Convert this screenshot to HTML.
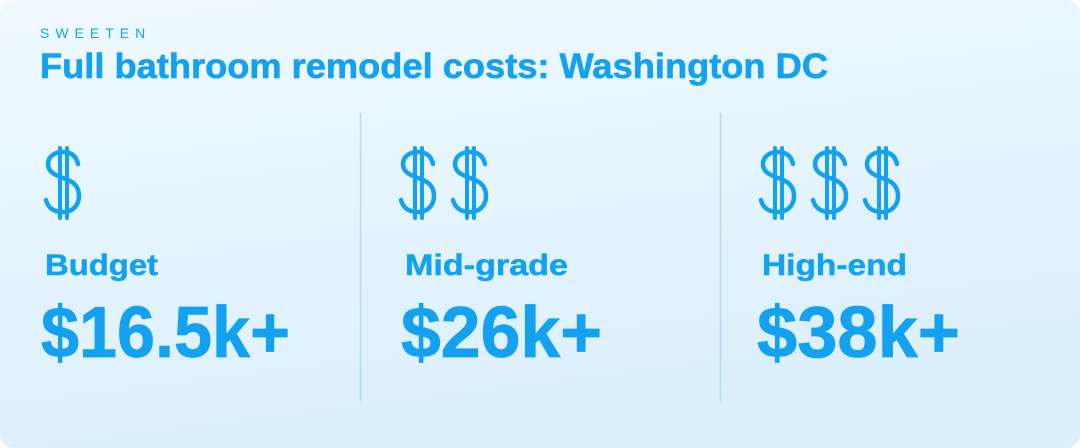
<!DOCTYPE html>
<html><head><meta charset="utf-8"><style>
html,body{margin:0;padding:0;background:#fff;}
svg{display:block;font-family:"Liberation Sans",Arial,sans-serif;}
</style></head><body>
<svg width="1080" height="448" viewBox="0 0 1080 448">
<defs>
<linearGradient id="bg" x1="0" y1="0" x2="0.3" y2="1">
<stop offset="0" stop-color="#eff9fe"/><stop offset="1" stop-color="#dbeffc"/>
</linearGradient>
<symbol id="dol" viewBox="0 0 40 74">
<path d="M35 18 C33 9 27 6 20 6 C11 6 5 11 5 18 C5 26 12 29 20 32 C29 35 36 39 36 50 C36 60 29 66 20 66 C11 66 5 62 3 54" fill="none" stroke="#14a2f0" stroke-width="4.5" stroke-linecap="round"/>
<line x1="17" y1="2" x2="17" y2="72" stroke="#14a2f0" stroke-width="4" stroke-linecap="round"/>
<line x1="24" y1="2" x2="24" y2="72" stroke="#14a2f0" stroke-width="4" stroke-linecap="round"/>
</symbol>
</defs>
<rect x="0" y="0" width="1080" height="448" rx="14" fill="url(#bg)"/>
<text x="40" y="38" font-size="14" fill="#14a2f0" letter-spacing="6">SWEETEN</text>
<text x="40" y="78" font-size="35" font-weight="bold" fill="#14a2f0" stroke="#14a2f0" stroke-width="0.6" textLength="788" lengthAdjust="spacingAndGlyphs">Full bathroom remodel costs: Washington DC</text>
<line x1="360.5" y1="113" x2="360.5" y2="401" stroke="#b4dcf5" stroke-width="1.5"/>
<line x1="720.5" y1="113" x2="720.5" y2="401" stroke="#b4dcf5" stroke-width="1.5"/>
<g>
<use href="#dol" x="43" y="146" width="40" height="74"/>
<text x="45" y="275" font-size="30" font-weight="bold" fill="#14a2f0" stroke="#14a2f0" stroke-width="0.5" textLength="113" lengthAdjust="spacingAndGlyphs">Budget</text>
<text x="41" y="357" font-size="72" font-weight="bold" fill="#14a2f0" stroke="#14a2f0" stroke-width="0.8" textLength="249" lengthAdjust="spacingAndGlyphs">$16.5k+</text>
</g>
<g>
<use href="#dol" x="398" y="146" width="40" height="74"/>
<use href="#dol" x="450" y="146" width="40" height="74"/>
<text x="405" y="275" font-size="30" font-weight="bold" fill="#14a2f0" stroke="#14a2f0" stroke-width="0.5" textLength="163" lengthAdjust="spacingAndGlyphs">Mid-grade</text>
<text x="401" y="357" font-size="72" font-weight="bold" fill="#14a2f0" stroke="#14a2f0" stroke-width="0.8" textLength="201" lengthAdjust="spacingAndGlyphs">$26k+</text>
</g>
<g>
<use href="#dol" x="758" y="146" width="40" height="74"/>
<use href="#dol" x="810" y="146" width="40" height="74"/>
<use href="#dol" x="862" y="146" width="40" height="74"/>
<text x="762" y="275" font-size="30" font-weight="bold" fill="#14a2f0" stroke="#14a2f0" stroke-width="0.5" textLength="145" lengthAdjust="spacingAndGlyphs">High-end</text>
<text x="757" y="357" font-size="72" font-weight="bold" fill="#14a2f0" stroke="#14a2f0" stroke-width="0.8" textLength="203" lengthAdjust="spacingAndGlyphs">$38k+</text>
</g>
</svg>
</body></html>
